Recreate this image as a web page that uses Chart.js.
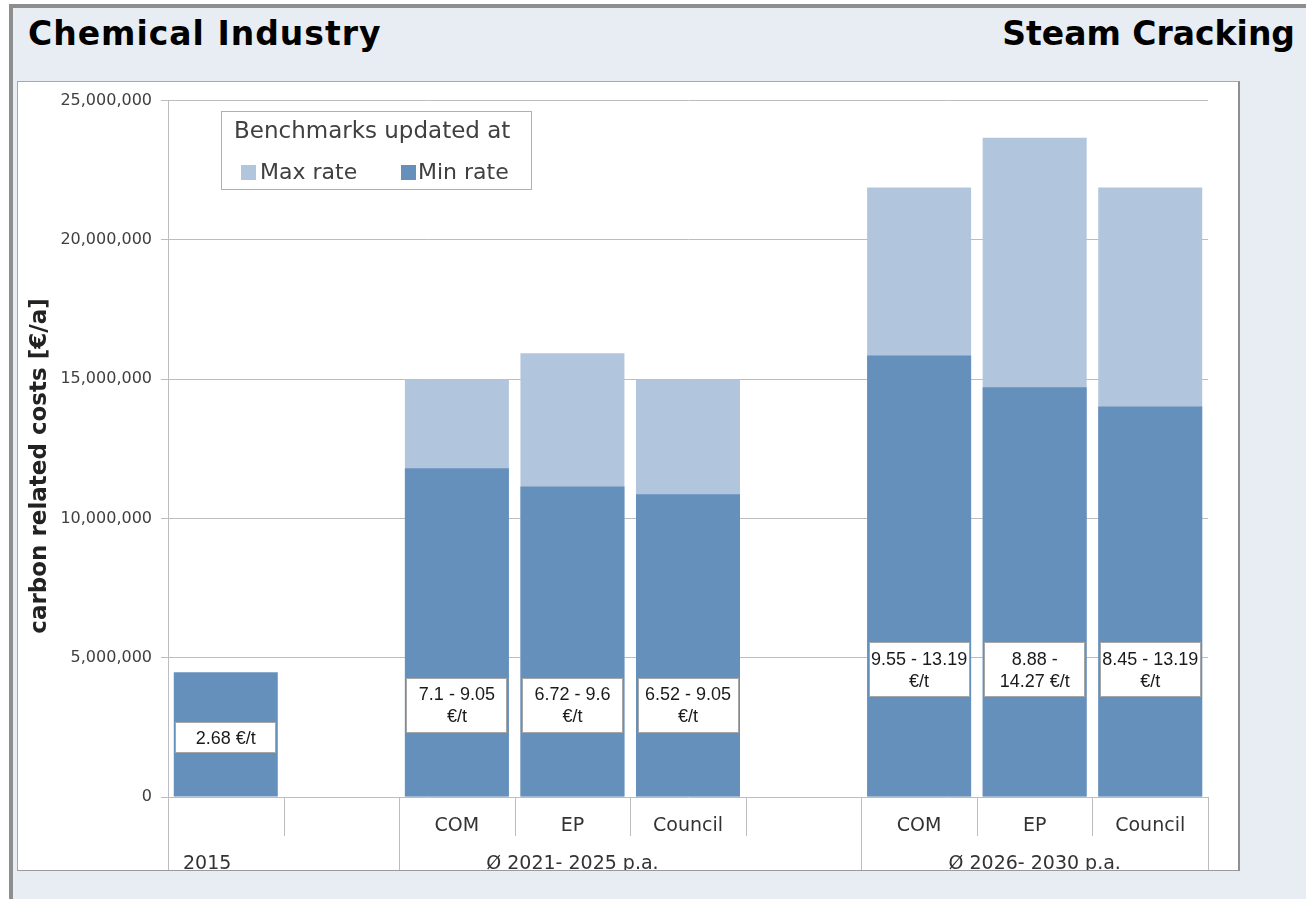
<!DOCTYPE html>
<html>
<head>
<meta charset="utf-8">
<script src="https://cdn.jsdelivr.net/npm/chart.js@4/dist/chart.umd.min.js"></script>
<style>
  html, body { margin: 0; padding: 0; width: 1306px; height: 899px; overflow: hidden; background: #ffffff; }
  #frame { position: absolute; left: 9px; top: 4px; width: 1297px; height: 895px;
           border-top: 4px solid #8e8e8e; border-left: 4px solid #8e8e8e; background: #e8edf4; box-sizing: border-box; }
  .title { position: absolute; top: 17px; font-family: "DejaVu Sans", Verdana, sans-serif; font-weight: bold;
           font-size: 33px; line-height: 33px; color: #000; white-space: nowrap; }
  #tl { left: 28px; letter-spacing: 1px; }
  #tr { right: 11px; }
  #panel { position: absolute; left: 17px; top: 81px; width: 1223px; height: 790px; box-sizing: border-box;
           background: #fff; border: 1px solid #a8a8a8; border-right: 2px solid #8f8f8f; border-bottom: 1px solid #9a9a9a; }
  #wrap { position: absolute; left: 18px; top: 82px; width: 1220px; height: 788px; }
</style>
</head>
<body>
<div id="frame"></div>
<div class="title" id="tl">Chemical Industry</div>
<div class="title" id="tr">Steam Cracking</div>
<div id="panel"></div>
<div id="wrap"><canvas id="c" width="1220" height="788"></canvas></div>
<script>
// ---- data ----
const categories = ['', '', 'COM', 'EP', 'Council', '', 'COM', 'EP', 'Council'];
const groupNames = ['2015', 'Ø 2021- 2025 p.a.', 'Ø 2026- 2030 p.a.'];
const groupFirst = [0, 2, 6];
const groupLast = [1, 5, 8];
const groupLabelLast = [0, 4, 8];
const groupAlign = ['left', 'center', 'center'];
const minRate = [4480000, null, 11800000, 11150000, 10870000, null, 15850000, 14710000, 14020000];
const maxRate = [null, null, 15000000, 15930000, 15000000, null, 21880000, 23670000, 21880000];
const rateLabels = [['2.68 €/t'], [], ['7.1 - 9.05', '€/t'], ['6.72 - 9.6', '€/t'], ['6.52 - 9.05', '€/t'], [],
                    ['9.55 - 13.19', '€/t'], ['8.88 -', '14.27 €/t'], ['8.45 - 13.19', '€/t']];
const rateLabelAt = [2120000, null, 3300000, 3300000, 3300000, null, 4560000, 4560000, 4560000];
const yTicks = [0, 5000000, 10000000, 15000000, 20000000, 25000000];
const legendTitle = 'Benchmarks updated at';
const yTitle = 'carbon related costs [€/a]';
const colMax = '#b1c5dd';
const colMin = '#6690bc';

const fontV = '"DejaVu Sans", Verdana, sans-serif';

const xLabelsPlugin = {
  id: 'xlabels',
  afterDraw(chart) {
    const { ctx, chartArea: a, scales: { x } } = chart;
    const step = (a.right - a.left) / categories.length;
    ctx.save();
    ctx.strokeStyle = '#bdbdbd';
    ctx.lineWidth = 1;
    for (let i = 0; i <= categories.length; i++) {
      const px = Math.round(a.left + i * step) + 0.5;
      const full = groupFirst.includes(i) || i === categories.length;
      ctx.beginPath();
      ctx.moveTo(px, a.bottom);
      ctx.lineTo(px, full ? chart.height : a.bottom + 39);
      ctx.stroke();
    }
    ctx.fillStyle = '#333333';
    ctx.font = '19px ' + fontV;
    ctx.textBaseline = 'alphabetic';
    ctx.textAlign = 'center';
    categories.forEach((c, i) => { if (c) ctx.fillText(c, x.getPixelForValue(i), a.bottom + 34); });
    groupNames.forEach((g, k) => {
      const l = a.left + groupFirst[k] * step;
      const r = a.left + (groupLabelLast[k] + 1) * step;
      if (groupAlign[k] === 'left') { ctx.textAlign = 'left'; ctx.fillText(g, l + 15, a.bottom + 72); }
      else { ctx.textAlign = 'center'; ctx.fillText(g, (l + r) / 2, a.bottom + 72); }
    });
    // y axis title
    ctx.save();
    ctx.translate(22, 384);
    ctx.rotate(-Math.PI / 2);
    ctx.font = 'bold 23px ' + fontV;
    ctx.fillStyle = '#222222';
    ctx.textAlign = 'center';
    ctx.textBaseline = 'middle';
    ctx.fillText(yTitle, 0, 0);
    ctx.restore();
    // legend
    const ds = chart.data.datasets;
    ctx.fillStyle = '#ffffff';
    ctx.fillRect(203, 29, 310, 78);
    ctx.strokeStyle = '#b0b0b0';
    ctx.strokeRect(203.5, 29.5, 310, 78);
    ctx.fillStyle = '#404040';
    ctx.font = '23px ' + fontV;
    ctx.textAlign = 'left';
    ctx.textBaseline = 'middle';
    ctx.fillText(legendTitle, 216, 50);
    ctx.font = '22px ' + fontV;
    const items = [[223, 242], [383, 400]];
    ds.forEach((d, k) => {
      ctx.fillStyle = d.backgroundColor;
      ctx.fillRect(items[k][0], 83, 15, 15);
      ctx.fillStyle = '#404040';
      ctx.fillText(d.label, items[k][1], 91);
    });
    ctx.restore();
  },
  afterDatasetsDraw(chart) {
    const { ctx, scales: { x, y } } = chart;
    const meta = chart.getDatasetMeta(1);
    ctx.save();
    ctx.font = '18px "Liberation Sans", Arial, sans-serif';
    ctx.textAlign = 'center';
    ctx.textBaseline = 'middle';
    rateLabels.forEach((lines, i) => {
      if (!lines.length) return;
      const bw = meta.data[i] ? meta.data[i].width : 104;
      const w = Math.round(bw - 3);
      const h = lines.length === 1 ? 31 : 55;
      const cx = x.getPixelForValue(i);
      const cy = y.getPixelForValue(rateLabelAt[i]);
      const l = Math.round(cx - w / 2), t = Math.round(cy - h / 2);
      ctx.fillStyle = '#ffffff';
      ctx.fillRect(l, t, w, h);
      ctx.strokeStyle = '#a6a6a6';
      ctx.lineWidth = 1;
      ctx.strokeRect(l + 0.5, t + 0.5, w - 1, h - 1);
      ctx.fillStyle = '#1a1a1a';
      const lh = 22;
      lines.forEach((s, j) => {
        ctx.fillText(s, cx, cy + (j - (lines.length - 1) / 2) * lh + 1);
      });
    });
    ctx.restore();
  }
};

new Chart(document.getElementById('c'), {
  type: 'bar',
  data: {
    labels: categories,
    datasets: [
      { label: 'Max rate', data: maxRate, backgroundColor: colMax, order: 2, grouped: false,
        barPercentage: 0.9, categoryPercentage: 1.0 },
      { label: 'Min rate', data: minRate, backgroundColor: colMin, order: 1, grouped: false,
        barPercentage: 0.9, categoryPercentage: 1.0 }
    ]
  },
  options: {
    responsive: false,
    animation: false,
    devicePixelRatio: 1,
    layout: { padding: { top: 18, right: 30, bottom: 73, left: 0 } },
    plugins: { legend: { display: false }, tooltip: { enabled: false }, title: { display: false } },
    scales: {
      x: { display: false },
      y: {
        min: 0, max: 25000000,
        afterFit(scale) { scale.width = 150; },
        afterBuildTicks(scale) { scale.ticks = yTicks.map(v => ({ value: v })); },
        ticks: { padding: 9, color: '#404040', font: { family: 'DejaVu Sans', size: 16 },
                 callback: v => v.toLocaleString('en-US') },
        grid: { color: '#bdbdbd', tickLength: 7, drawTicks: true },
        border: { display: true, color: '#bdbdbd' }
      }
    }
  },
  plugins: [xLabelsPlugin]
});
</script>
</body>
</html>
